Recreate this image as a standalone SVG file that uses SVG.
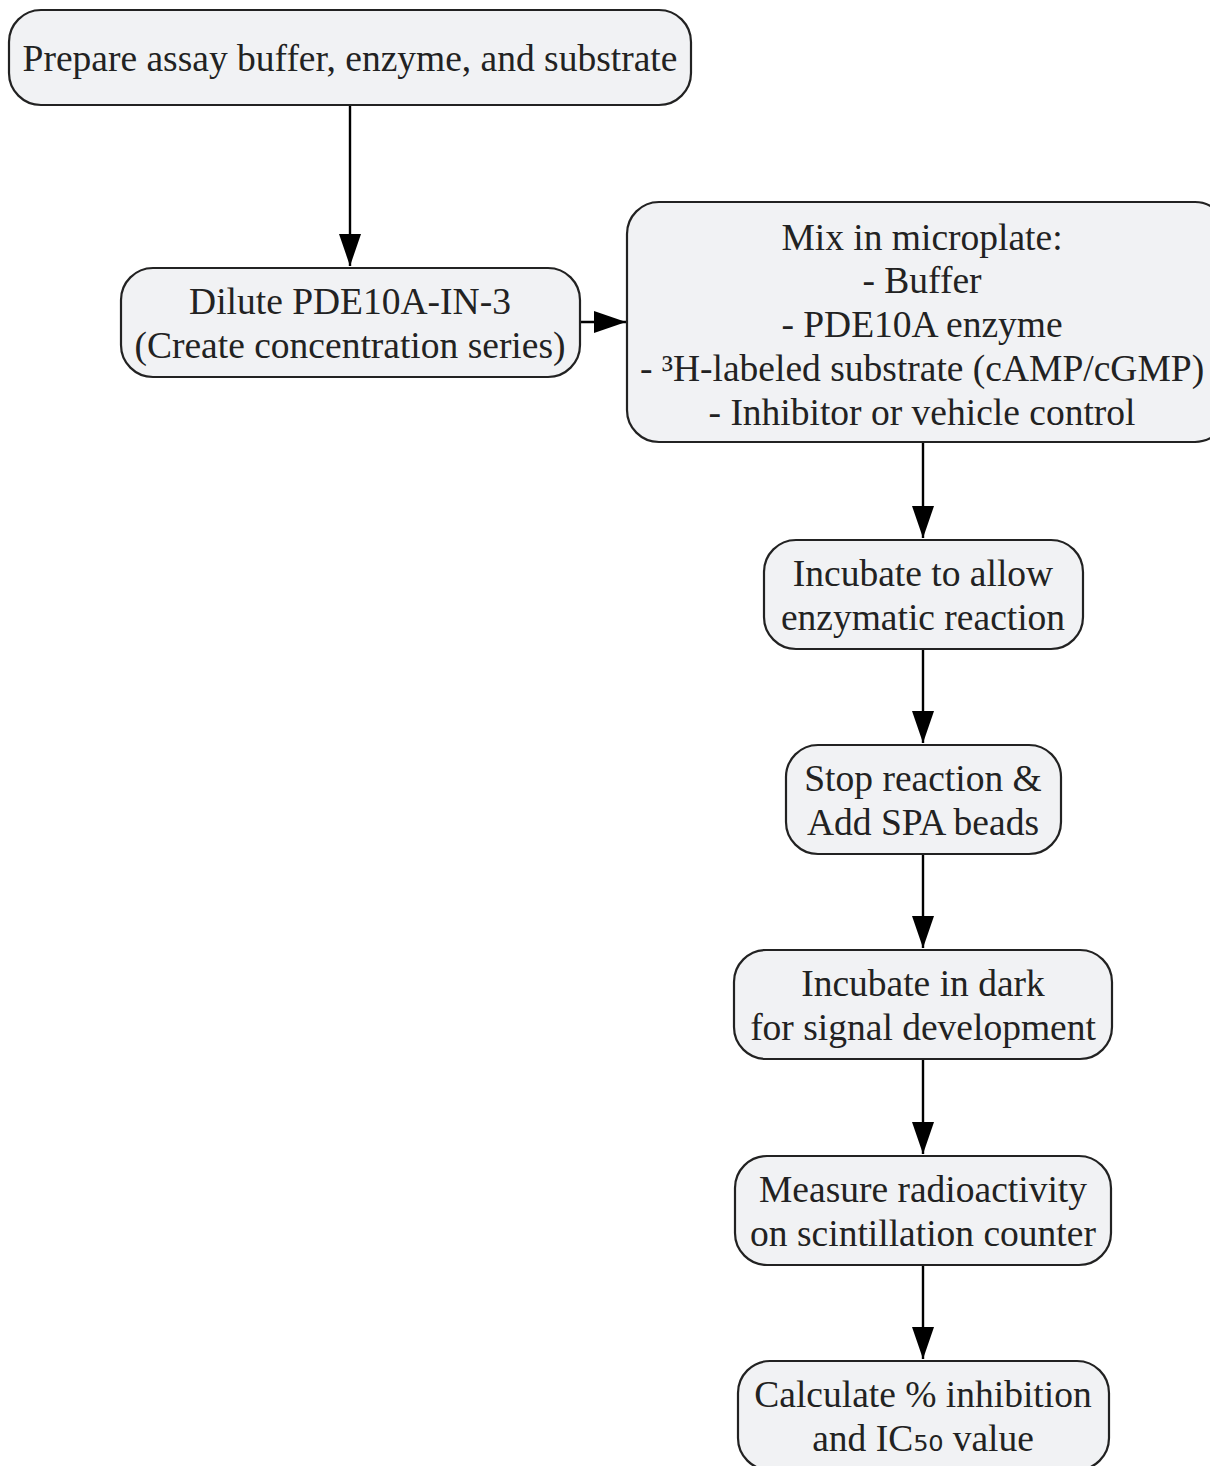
<svg xmlns="http://www.w3.org/2000/svg" width="1210" height="1466" viewBox="0 0 1210 1466">
<style>
.n{fill:#f1f2f4;stroke:#222;stroke-width:2.2}
.t{font-family:"Liberation Serif","Times New Roman",serif;font-size:37.5px;fill:#222;text-anchor:middle}
.s{font-family:"DejaVu Sans",sans-serif}
.e{stroke:#000;stroke-width:2.4;fill:none}
</style>
<defs>
<marker id="ah" markerWidth="32" markerHeight="22" refX="32" refY="11" orient="auto" markerUnits="userSpaceOnUse">
<path d="M0,0 L32,11 L0,22 Z" fill="#000"/>
</marker>
</defs>
<rect width="1210" height="1466" fill="#fff"/>
<g id="connectors">
<line class="e" x1="350" y1="105" x2="350" y2="266" marker-end="url(#ah)"/>
<line class="e" x1="580" y1="322" x2="626" y2="322" marker-end="url(#ah)"/>
<line class="e" x1="923" y1="442" x2="923" y2="538" marker-end="url(#ah)"/>
<line class="e" x1="923" y1="649" x2="923" y2="743" marker-end="url(#ah)"/>
<line class="e" x1="923" y1="854" x2="923" y2="948" marker-end="url(#ah)"/>
<line class="e" x1="923" y1="1059" x2="923" y2="1154" marker-end="url(#ah)"/>
<line class="e" x1="923" y1="1265" x2="923" y2="1359" marker-end="url(#ah)"/>
</g>
<g id="prepare">
<rect class="n" x="9" y="10" width="682" height="95" rx="32"/>
<text class="t" x="350" y="71">Prepare assay buffer, enzyme, and substrate</text>
</g>
<g id="dilute">
<rect class="n" x="121" y="268" width="459" height="109" rx="32"/>
<text class="t" x="350" y="314">Dilute PDE10A-IN-3</text>
<text class="t" x="350" y="358">(Create concentration series)</text>
</g>
<g id="mix">
<rect class="n" x="627" y="202" width="600" height="240" rx="32"/>
<text class="t" x="922" y="250">Mix in microplate:</text>
<text class="t" x="922" y="293">- Buffer</text>
<text class="t" x="922" y="337">- PDE10A enzyme</text>
<text class="t" x="922" y="381">- ³H-labeled substrate (cAMP/cGMP)</text>
<text class="t" x="922" y="425">- Inhibitor or vehicle control</text>
</g>
<g id="incubate">
<rect class="n" x="764" y="540" width="319" height="109" rx="32"/>
<text class="t" x="923" y="586">Incubate to allow</text>
<text class="t" x="923" y="630">enzymatic reaction</text>
</g>
<g id="stop">
<rect class="n" x="786" y="745" width="275" height="109" rx="32"/>
<text class="t" x="923" y="791">Stop reaction &amp;</text>
<text class="t" x="923" y="835">Add SPA beads</text>
</g>
<g id="dark">
<rect class="n" x="734" y="950" width="378" height="109" rx="32"/>
<text class="t" x="923" y="996">Incubate in dark</text>
<text class="t" x="923" y="1040">for signal development</text>
</g>
<g id="measure">
<rect class="n" x="735" y="1156" width="376" height="109" rx="32"/>
<text class="t" x="923" y="1202">Measure radioactivity</text>
<text class="t" x="923" y="1246">on scintillation counter</text>
</g>
<g id="calculate">
<rect class="n" x="738" y="1361" width="371" height="109" rx="32"/>
<text class="t" x="923" y="1407">Calculate % inhibition</text>
<text class="t" x="923" y="1451">and IC<tspan class="s">₅₀</tspan> value</text>
</g>
</svg>
